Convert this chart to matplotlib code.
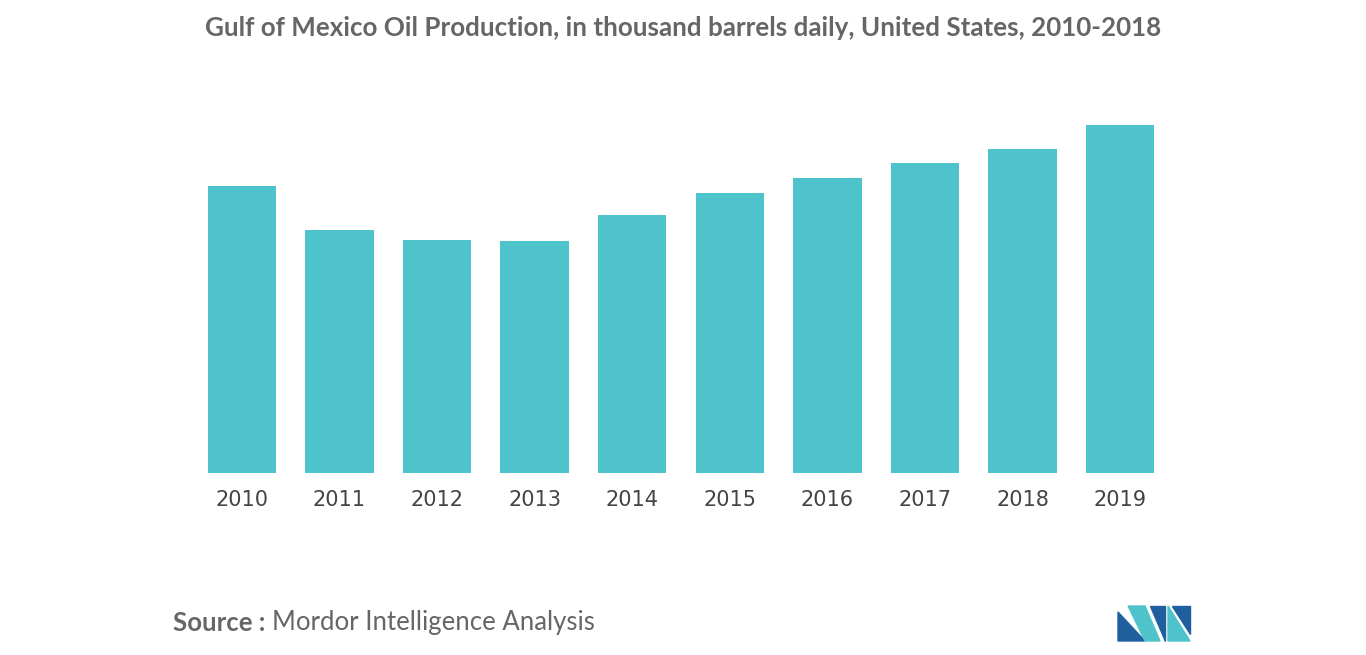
import matplotlib
matplotlib.use("Agg")
import matplotlib.pyplot as plt
from matplotlib.patches import Polygon

years = ["2010","2011","2012","2013","2014","2015","2016","2017","2018","2019"]
production = [1550, 1312, 1258, 1253, 1393, 1512, 1593, 1674, 1750, 1879]

fig = plt.figure(figsize=(13.66, 6.55), dpi=100)
ax = fig.add_axes([0.1413, 0.2779, 0.7145, 0.565])
ax.bar(range(len(years)), production, width=0.7, color="#4fc3cb")
ax.set_xlim(-0.5, 9.5)
ax.set_ylim(0, 2000)
ax.set_xticks(range(len(years)))
ax.set_xticklabels(years, fontsize=15, color="#444444", family="DejaVu Sans")
ax.tick_params(axis="x", length=0, pad=12)
ax.set_yticks([])
for s in ax.spines.values():
    s.set_visible(False)

fig.text(0.5, 0.957, "Gulf of Mexico Oil Production, in thousand barrels daily, United States, 2010-2018",
         ha="center", va="center", fontsize=18.7, color="#666666", family="Lato", fontweight="bold")
fig.text(0.127, 0.049, "Source :", ha="left", va="center", fontsize=18.5, color="#666666",
         family="Lato", fontweight="bold")
fig.text(0.199, 0.049, "Mordor Intelligence Analysis", ha="left", va="center", fontsize=18.5,
         color="#666666", family="Lato")

# logo
W, H = 1366, 655
def P(pts, c):
    fig.patches.append(Polygon([(x / W, 1 - y / H) for x, y in pts], closed=True,
                               transform=fig.transFigure, color=c))
P([(1118, 641), (1118, 612), (1145, 641)], "#1f5f9e")
P([(1128, 606), (1145, 606), (1160, 641), (1145, 641)], "#4fc3cb")
P([(1150, 606), (1165, 606), (1165, 641)], "#1f5f9e")
P([(1168, 606), (1190, 641), (1168, 641)], "#4fc3cb")
P([(1172, 606), (1190, 606), (1190, 634)], "#1f5f9e")

fig.savefig("out.png", dpi=100)
